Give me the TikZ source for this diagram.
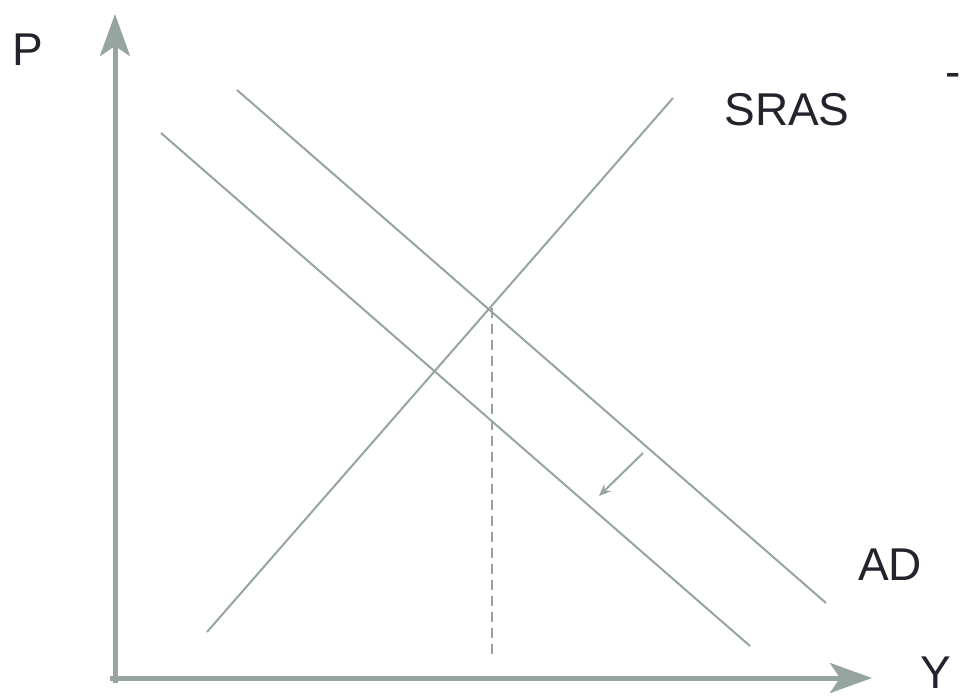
\documentclass[tikz,border=0pt]{standalone}
\usepackage{fontspec}
\setmainfont{Liberation Sans}
\usetikzlibrary{arrows.meta}
\definecolor{curvegray}{RGB}{150,165,157}
\definecolor{labelink}{RGB}{35,35,45}

\begin{document}
\begin{tikzpicture}[x=1pt,y=-1pt,
  axis/.style={draw=curvegray,line width=5pt,-{Stealth[length=42pt,width=30pt,inset=10pt]}},
  curve/.style={draw=curvegray,line width=2pt},
  guide/.style={draw=curvegray,line width=2pt,dash pattern=on 10pt off 6pt},
  shiftarrow/.style={draw=curvegray,line width=2pt,-{Stealth[length=12pt,width=10pt]}},
  lbl/.style={text=labelink,font=\fontsize{46}{52}\selectfont,inner sep=0pt}]
\useasboundingbox (0,0) rectangle (961,699);
% axes
\coordinate (origin) at (115,678);
\coordinate (ptop) at (115,14);
\coordinate (yend) at (872,678);
\draw[axis] (origin|-0,683) -- (ptop);
\draw[axis] (110,678) -- (yend);
\node[lbl] (plabel) at (28,50) {P};
\node[lbl] (ylabel) at (936,673) {Y};
% SRAS and the two AD curves
\coordinate (sras0) at (207,632);
\coordinate (sras1) at (673,98);
\coordinate (ad0) at (237,90);
\coordinate (ad1) at (826,603);
\coordinate (adn0) at (161,133);
\coordinate (adn1) at (750,646);
\draw[curve] (sras0) -- (sras1);
\draw[curve] (ad0) -- (ad1);
\draw[curve] (adn0) -- (adn1);
\node[lbl] (sraslabel) at (787,110) {SRAS};
\node[lbl] (adlabel) at (890,565) {AD};
\node[lbl] (dash) at (953,80) {-};
% equilibrium output
\coordinate (eq) at (492,308);
\coordinate (eqfoot) at (492,660);
\draw[guide] (eq) -- (eqfoot);
% leftward shift of AD
\coordinate (shiftfrom) at (643,453);
\coordinate (shiftto) at (599,496);
\draw[shiftarrow] (shiftfrom) -- (shiftto);
\end{tikzpicture}
\end{document}
